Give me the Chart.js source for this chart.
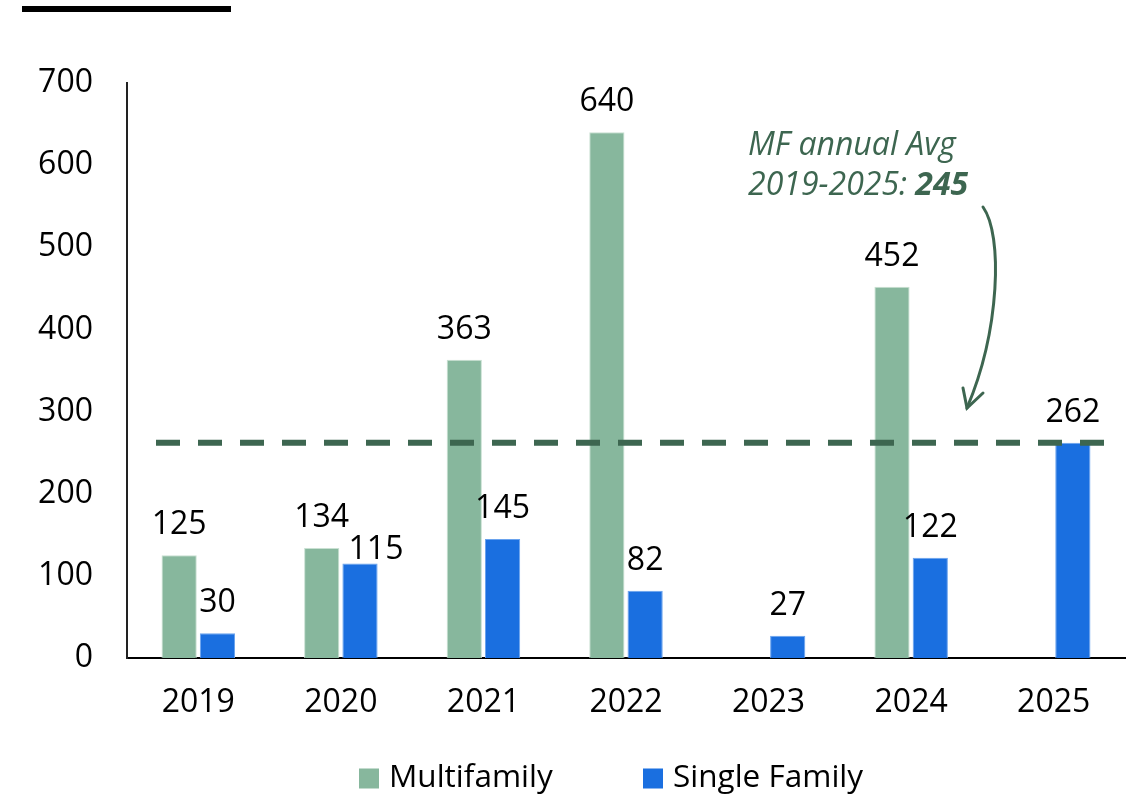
<!DOCTYPE html>
<html>
<head>
<meta charset="utf-8">
<script src="https://cdn.jsdelivr.net/npm/chart.js@4.4.1/dist/chart.umd.min.js"></script>
<style>
  html, body { margin: 0; padding: 0; background: #fff; }
  #wrap { position: relative; width: 1138px; height: 796px; }
  #topbar { position: absolute; left: 22px; top: 6px; width: 209px; height: 6px; background: #000; }
  canvas { position: absolute; left: 0; top: 0; }
</style>
</head>
<body>
<div id="wrap">
  <canvas id="c" width="1138" height="796"></canvas>
  <div id="topbar"></div>
</div>
<script>
// ---- Data ----
const categories = ['2019', '2020', '2021', '2022', '2023', '2024', '2025'];
const multifamily = [125, 134, 363, 640, null, 452, null];
const singleFamily = [30, 115, 145, 82, 27, 122, 262];
const seriesNames = ['Multifamily', 'Single Family'];
const avgLineValue = 262;
const annotationLine1 = 'MF annual Avg';
const annotationLine2 = '2019-2025: ';
const annotationValue = '245';
const yTicks = [0, 100, 200, 300, 400, 500, 600, 700];

const MF_COLOR = '#87b79d';
const SF_COLOR = '#1a6fe0';
const GREEN = '#3d6650';
const FONT = '"Open Sans", "Noto Sans", sans-serif';

const overlayPlugin = {
  id: 'overlay',
  afterDatasetsDraw(chart) {
    const ctx = chart.ctx;
    const ca = chart.chartArea;
    const y = chart.scales.y;
    // data labels
    ctx.save();
    ctx.font = '32px ' + FONT;
    ctx.fillStyle = '#000';
    ctx.textAlign = 'center';
    ctx.textBaseline = 'alphabetic';
    const offsets = { '1-1': [16, 16] };
    chart.data.datasets.forEach((ds, di) => {
      const meta = chart.getDatasetMeta(di);
      meta.data.forEach((bar, i) => {
        const v = ds.data[i];
        if (v === null || v === undefined) return;
        const off = offsets[di + '-' + i] || [0, 0];
        ctx.fillText(String(v), bar.x + off[0], bar.y - 21 + off[1]);
      });
    });
    ctx.restore();

    // dashed average line
    const ly = y.getPixelForValue(avgLineValue);
    ctx.save();
    ctx.strokeStyle = GREEN;
    ctx.lineWidth = 6;
    ctx.setLineDash([24, 18]);
    ctx.beginPath();
    ctx.moveTo(ca.left + 29, ly);
    ctx.lineTo(ca.right - 21, ly);
    ctx.stroke();
    ctx.restore();

    // annotation text
    ctx.save();
    ctx.fillStyle = GREEN;
    ctx.textAlign = 'left';
    ctx.textBaseline = 'alphabetic';
    ctx.font = 'italic 32px ' + FONT;
    ctx.fillText(annotationLine1, 748, 155);
    ctx.fillText(annotationLine2, 748, 195);
    const w2 = ctx.measureText(annotationLine2).width;
    ctx.font = 'italic bold 32px ' + FONT;
    ctx.fillText(annotationValue, 748 + w2, 195);
    ctx.restore();

    // curved arrow
    ctx.save();
    ctx.strokeStyle = GREEN;
    ctx.lineWidth = 3;
    ctx.lineCap = 'round';
    ctx.beginPath();
    ctx.moveTo(983, 207);
    ctx.bezierCurveTo(1003, 235, 1000, 330, 967, 408);
    ctx.stroke();
    ctx.beginPath();
    ctx.moveTo(963, 388);
    ctx.lineTo(967, 408);
    ctx.lineTo(983, 393);
    ctx.stroke();
    ctx.restore();

    // legend
    ctx.save();
    ctx.font = '31.5px ' + FONT;
    ctx.textBaseline = 'alphabetic';
    ctx.textAlign = 'left';
    const colors = [MF_COLOR, SF_COLOR];
    const boxX = [359, 643];
    const textX = [389, 673];
    const base = 787;
    seriesNames.forEach((n, i) => {
      ctx.fillStyle = colors[i];
      ctx.fillRect(boxX[i], 768.5, 20, 20);
      ctx.fillStyle = '#000';
      ctx.fillText(n, textX[i], base);
    });
    ctx.restore();
  }
};

new Chart(document.getElementById('c'), {
  type: 'bar',
  data: {
    labels: categories,
    datasets: [
      { label: seriesNames[0], data: multifamily, backgroundColor: MF_COLOR, borderColor: '#c9e0d2', borderWidth: 1,
        categoryPercentage: 0.537, barPercentage: 0.92 },
      { label: seriesNames[1], data: singleFamily, backgroundColor: SF_COLOR, borderColor: '#6aa3ee', borderWidth: 1,
        categoryPercentage: 0.537, barPercentage: 0.92 }
    ]
  },
  options: {
    responsive: false,
    animation: false,
    layout: { padding: { top: 83, right: 13, left: 0, bottom: 0 } },
    plugins: { legend: { display: false }, tooltip: { enabled: false } },
    scales: {
      x: {
        grid: { display: false, drawTicks: false },
        border: { display: true, color: '#000', width: 2 },
        ticks: { color: '#000', font: { family: FONT, size: 32 }, padding: 26, maxRotation: 0 },
        afterFit(s) { s.height = 138; }
      },
      y: {
        min: 0, max: 700,
        afterBuildTicks(s) { s.ticks = yTicks.map(v => ({ value: v })); },
        grid: { display: false, drawTicks: false },
        border: { display: true, color: '#222', width: 2 },
        ticks: { color: '#000', font: { family: FONT, size: 32 }, padding: 34 },
        afterFit(s) { s.width = 127; }
      }
    }
  },
  plugins: [overlayPlugin]
});
</script>
</body>
</html>
